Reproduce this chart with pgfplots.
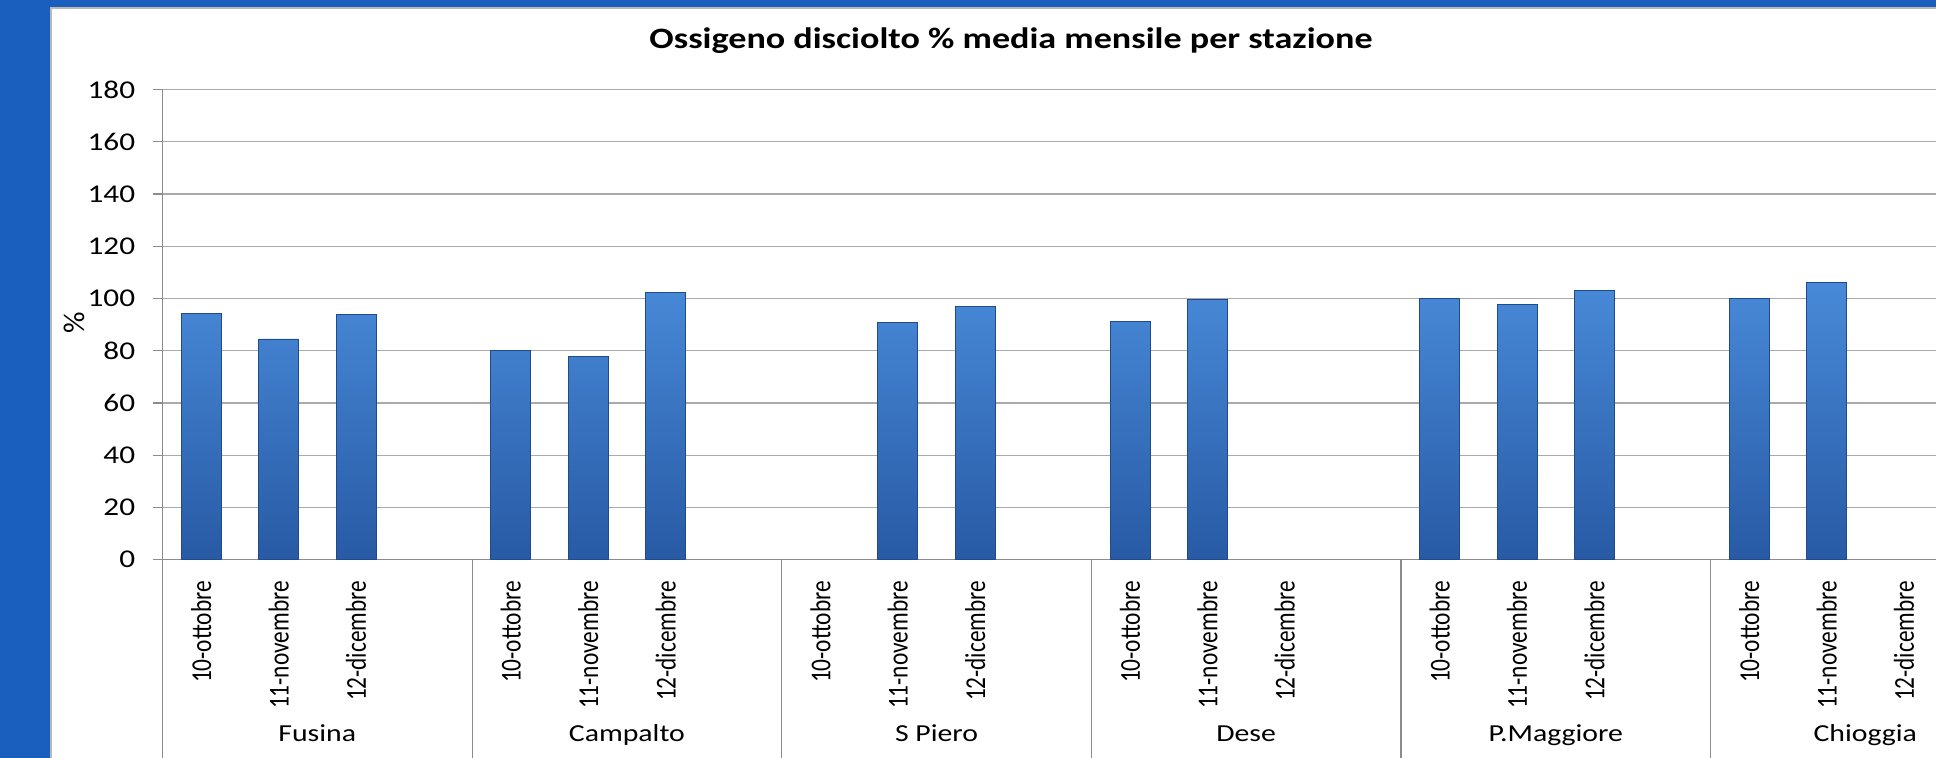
\documentclass[border=0pt]{standalone}
\usepackage{fontspec}
\setmainfont{Carlito}
\newfontfamily\wide{Carlito}[FakeStretch=1.22]
\usepackage{graphicx}
\usepackage{pgfplots}
\pgfplotsset{compat=1.18}
\definecolor{bgblue}{RGB}{26,95,190}
\definecolor{gridgray}{RGB}{170,170,170}
\definecolor{axgray}{RGB}{140,140,140}
\definecolor{bartop}{RGB}{72,138,216}
\definecolor{barbot}{RGB}{40,90,165}
\definecolor{baredge}{RGB}{32,74,142}
\newcommand\mA{\resizebox{51pt}{10pt}{10-ottobre}}
\newcommand\mB{\resizebox{64pt}{10pt}{11-novembre}}
\newcommand\mC{\resizebox{60pt}{10pt}{12-dicembre}}
\begin{document}
\begin{tikzpicture}
\useasboundingbox (0,0) rectangle (968pt,379pt);
\clip (0,0) rectangle (968pt,379pt);
\fill[bgblue] (0,0) rectangle (968pt,379pt);
\filldraw[fill=white, draw=gray!55, line width=0.8pt] (25.35pt,-20pt) rectangle (1000pt,374.85pt);
\node[font=\wide\bfseries\fontsize{14.8}{16}\selectfont, anchor=base] at (505.5pt,354.85pt) {Ossigeno disciolto \% media mensile per stazione};
\node[font=\fontsize{15}{17}\selectfont, rotate=90] at (37pt,217.5pt) {\%};
\begin{axis}[
  at={(81.25pt,99.2pt)}, anchor=south west,
  scale only axis, width=928.8pt, height=235pt,
  xmin=-0.5, xmax=23.5, ymin=0, ymax=180,
  ytick={0,20,...,180},
  yticklabels={0,20,40,60,80,100,120,140,160,180},
  xtick={0,1,2,4,5,6,8,9,10,12,13,14,16,17,18,20,21,22},
  xticklabels={\mA,\mB,\mC,\mA,\mB,\mC,\mA,\mB,\mC,\mA,\mB,\mC,\mA,\mB,\mC,\mA,\mB,\mC},
  axis x line*=bottom, axis y line*=left,
  axis line style={axgray, line width=0.6pt},
  ymajorgrids, major grid style={gridgray, line width=0.6pt},
  tick align=outside,
  major tick length=5pt,
  major x tick style={draw=none},
  ytick style={axgray, line width=0.6pt},
  yticklabel style={font=\wide\fontsize{12.8}{14}\selectfont, anchor=east, inner sep=0pt, xshift=-8.5pt},
  xticklabel style={yshift=-5.5pt, rotate=90, anchor=east, inner sep=0pt},
  clip=false,
]
\addplot[ybar, bar width=20pt, draw=baredge, line width=0.4pt, top color=bartop, bottom color=barbot] coordinates {
  (0,94.4) (1,84.5) (2,94.0)
  (4,80.2) (5,77.7) (6,102.4)
  (9,90.9) (10,97.0)
  (12,91.2) (13,99.5)
  (16,100.1) (17,97.8) (18,103.0)
  (20,100.1) (21,106.1)
};
\pgfplotsinvokeforeach{-0.5,3.5,7.5,11.5,15.5,19.5,23.5}{
  \draw[axgray, line width=0.6pt] (axis cs:#1,0) -- ([yshift=-110pt]axis cs:#1,0);
}
\node[font=\wide\fontsize{12.2}{14}\selectfont, anchor=base, yshift=-91pt] at (axis cs:1.5,0) {Fusina};
\node[font=\wide\fontsize{12.2}{14}\selectfont, anchor=base, yshift=-91pt] at (axis cs:5.5,0) {Campalto};
\node[font=\wide\fontsize{12.2}{14}\selectfont, anchor=base, yshift=-91pt] at (axis cs:9.5,0) {S Piero};
\node[font=\wide\fontsize{12.2}{14}\selectfont, anchor=base, yshift=-91pt] at (axis cs:13.5,0) {Dese};
\node[font=\wide\fontsize{12.2}{14}\selectfont, anchor=base, yshift=-91pt] at (axis cs:17.5,0) {P.Maggiore};
\node[font=\wide\fontsize{12.2}{14}\selectfont, anchor=base, yshift=-91pt] at (axis cs:21.5,0) {Chioggia};
\end{axis}
\end{tikzpicture}
\end{document}
